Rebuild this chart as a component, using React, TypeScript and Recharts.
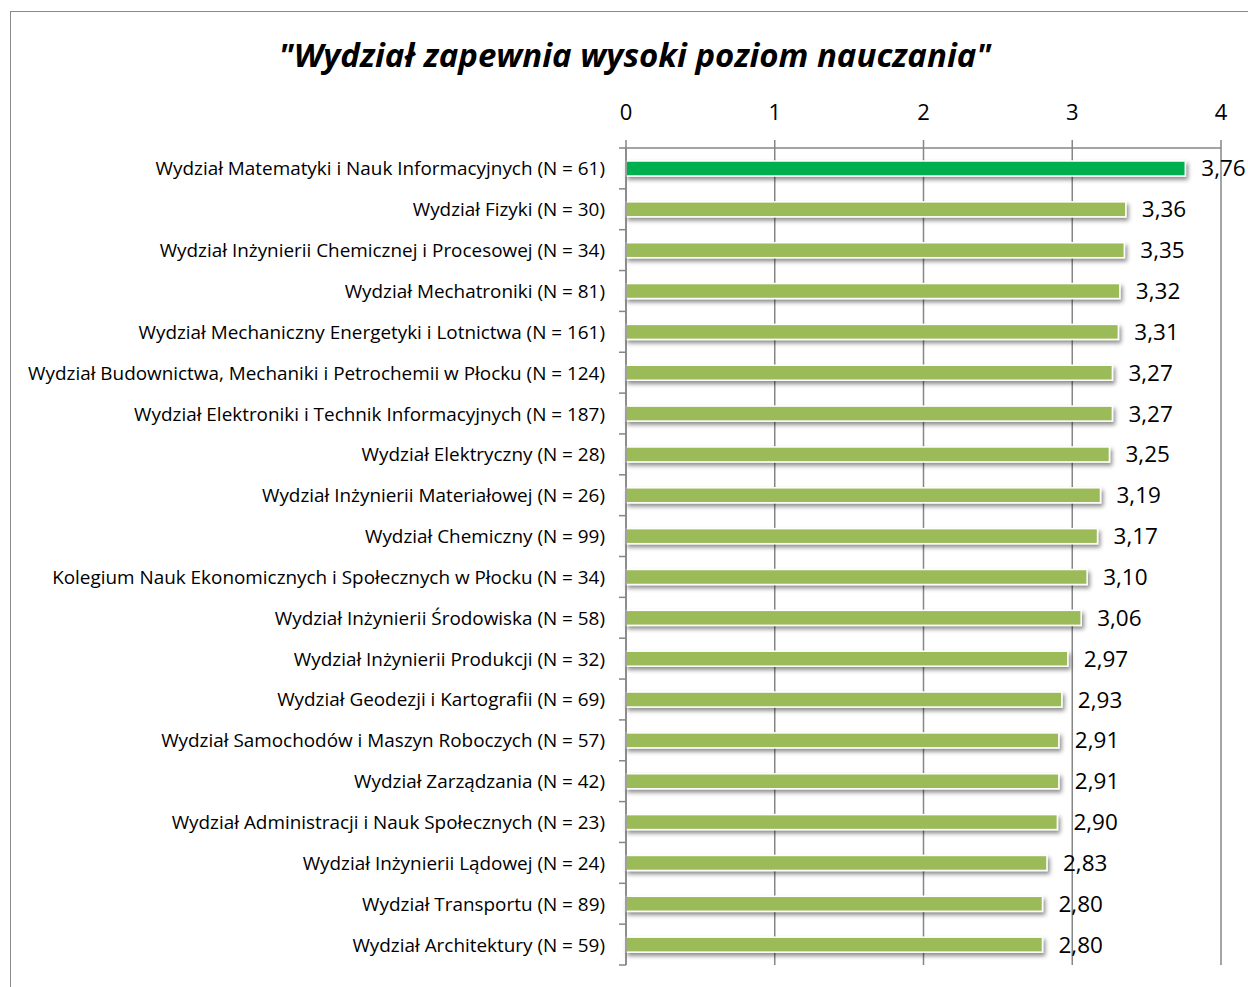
import React from "react";
import {
  BarChart,
  Bar,
  XAxis,
  YAxis,
  CartesianGrid,
  Cell,
  LabelList,
} from "recharts";

const faculties = [
  "Wydział Matematyki i Nauk Informacyjnych (N = 61)",
  "Wydział Fizyki (N = 30)",
  "Wydział Inżynierii Chemicznej i Procesowej (N = 34)",
  "Wydział Mechatroniki (N = 81)",
  "Wydział Mechaniczny Energetyki i Lotnictwa (N = 161)",
  "Wydział Budownictwa, Mechaniki i Petrochemii w Płocku (N = 124)",
  "Wydział Elektroniki i Technik Informacyjnych (N = 187)",
  "Wydział Elektryczny (N = 28)",
  "Wydział Inżynierii Materiałowej (N = 26)",
  "Wydział Chemiczny (N = 99)",
  "Kolegium Nauk Ekonomicznych i Społecznych w Płocku (N = 34)",
  "Wydział Inżynierii Środowiska (N = 58)",
  "Wydział Inżynierii Produkcji (N = 32)",
  "Wydział Geodezji i Kartografii (N = 69)",
  "Wydział Samochodów i Maszyn Roboczych (N = 57)",
  "Wydział Zarządzania (N = 42)",
  "Wydział Administracji i Nauk Społecznych (N = 23)",
  "Wydział Inżynierii Lądowej (N = 24)",
  "Wydział Transportu (N = 89)",
  "Wydział Architektury (N = 59)",
];

const scores = [
  3.76, 3.36, 3.35, 3.32, 3.31, 3.27, 3.27, 3.25, 3.19, 3.17, 3.1, 3.06, 2.97,
  2.93, 2.91, 2.91, 2.9, 2.83, 2.8, 2.8,
];

const highlighted = [faculties[0]];

const xTicks = [0, 1, 2, 3, 4];

const data = faculties.map((name, i) => ({ name, score: scores[i] }));

const W = 1248;
const H = 987;
const TOP = 148;
const BOTTOM = 965;
const AXIS_X = 626;
const BAND = (BOTTOM - TOP) / faculties.length;
const GRAY = "#868686";
const FONT = "'Open Sans', Lato, sans-serif";

const CategoryTick = ({ x, y, payload, index }: any) => (
  <g>
    <text
      x={x}
      y={y}
      textAnchor="end"
      dominantBaseline="central"
      fontSize={18.9}
      fill="#000"
      fontFamily={FONT}
    >
      {payload.value}
    </text>
    {index === 0 && (
      <line
        x1={AXIS_X - 7}
        x2={AXIS_X}
        y1={y - BAND / 2}
        y2={y - BAND / 2}
        stroke={GRAY}
        strokeWidth={1.5}
      />
    )}
    <line
      x1={AXIS_X - 7}
      x2={AXIS_X}
      y1={y + BAND / 2}
      y2={y + BAND / 2}
      stroke={GRAY}
      strokeWidth={1.5}
    />
  </g>
);

const ShadowBar = (props: any) => {
  const { x, y, width, height, fill } = props;
  return (
    <rect
      x={x}
      y={y}
      width={width}
      height={height}
      fill={fill}
      stroke="#fff"
      strokeWidth={1.5}
      filter="url(#barShadow)"
    />
  );
};

export default function App() {
  return (
    <div
      style={{
        position: "absolute",
        left: 0,
        top: 0,
        width: W,
        height: H,
        background: "#fff",
        overflow: "hidden",
        fontFamily: FONT,
      }}
    >
      <svg width={0} height={0} style={{ position: "absolute" }}>
        <defs>
          <filter id="barShadow" x="-5%" y="-50%" width="110%" height="250%">
            <feDropShadow dx={2} dy={3} stdDeviation={2} floodColor="#000" floodOpacity={0.45} />
          </filter>
        </defs>
      </svg>
      <div
        style={{
          position: "absolute",
          left: 10,
          top: 11,
          width: W,
          height: H,
          border: "1.5px solid #8a8a8a",
        }}
      />
      <div
        style={{
          position: "absolute",
          left: 0,
          width: 1270,
          top: 34,
          textAlign: "center",
          fontSize: 33,
          lineHeight: "42px",
          fontWeight: 700,
          fontStyle: "italic",
          color: "#000",
        }}
      >
        "Wydział zapewnia wysoki poziom nauczania"
      </div>
      <div style={{ position: "absolute", left: 0, top: 0 }}>
        <BarChart
          width={W}
          height={H}
          data={data}
          layout="vertical"
          margin={{ top: TOP - 40, right: W - 1221, bottom: H - BOTTOM, left: 0 }}
          barCategoryGap={0}
        >
          <CartesianGrid horizontal={false} stroke={GRAY} strokeWidth={1.5} />
          <XAxis
            type="number"
            orientation="top"
            domain={[0, 4]}
            ticks={xTicks}
            height={40}
            axisLine={{ stroke: GRAY, strokeWidth: 1.5 }}
            tickLine={{ stroke: GRAY, strokeWidth: 1.5 }}
            tickSize={8}
            tickMargin={20}
            tick={{ fill: "#000", fontSize: 22, fontFamily: FONT }}
          />
          <YAxis
            type="category"
            dataKey="name"
            width={AXIS_X}
            axisLine={{ stroke: GRAY, strokeWidth: 1.5 }}
            tickLine={false}
            tickSize={0}
            tickMargin={21}
            interval={0}
            tick={<CategoryTick />}
          />
          <Bar
            dataKey="score"
            barSize={15}
            shape={<ShadowBar />}
            isAnimationActive={false}
          >
            {data.map((d) => (
              <Cell
                key={d.name}
                fill={highlighted.includes(d.name) ? "#00B050" : "#9BBB59"}
              />
            ))}
            <LabelList
              dataKey="score"
              position="right"
              offset={16}
              fill="#000"
              fontSize={22.5}
              fontFamily={FONT}
              formatter={(v: any) => Number(v).toFixed(2).replace(".", ",")}
            />
          </Bar>
        </BarChart>
      </div>
    </div>
  );
}
